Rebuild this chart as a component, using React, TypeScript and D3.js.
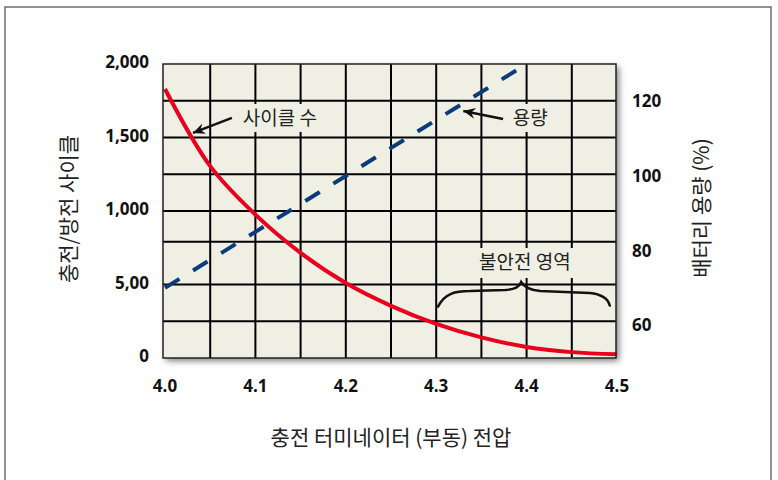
import React from "react";
import * as d3 from "d3";

// ---- data ----
const voltage = [4.0, 4.05, 4.1, 4.15, 4.2, 4.25, 4.3, 4.35, 4.4, 4.45, 4.5];
const cycles = [1830, 1305, 975, 715, 510, 355, 232, 140, 75, 40, 25];
const capVoltage = [4.0, 4.1, 4.2, 4.3, 4.4];
const capacity = [70, 85, 100, 115, 130];

const xTicks = [4.0, 4.1, 4.2, 4.3, 4.4, 4.5];
const xTickLabels = ["4.0", "4.1", "4.2", "4.3", "4.4", "4.5"];
const leftTicks = [0, 500, 1000, 1500, 2000];
const leftTickLabels = ["0", "5,00", "1,000", "1,500", "2,000"];
const rightTicks = [60, 80, 100, 120];
const rightTickLabels = ["60", "80", "100", "120"];
const xGrid = [4.05, 4.1, 4.15, 4.2, 4.25, 4.3, 4.35, 4.4, 4.45];
const yGrid = [250, 500, 790, 1000, 1250, 1500, 1750];

const xTitle = "충전 터미네이터 (부동) 전압";
const leftTitle = "충전/방전 사이클";
const rightTitle = "배터리 용량 (%)";
const cycleLabel = "사이클 수";
const capLabel = "용량";
const unsafeLabel = "불안전 영역";

const W = 778;
const H = 480;
const plot = { left: 163, right: 616, top: 64, bottom: 358 };

const KFONT = "'Noto Sans CJK KR', 'Noto Sans', sans-serif";
const NFONT = "'Open Sans', 'Noto Sans', sans-serif";

export default function App() {
  const x = d3.scaleLinear().domain([4.0, 4.5]).range([165, 617]);
  const yL = d3.scaleLinear().domain([0, 2000]).range([plot.bottom, plot.top]);
  const yR = d3.scaleLinear().domain([51.2, 130]).range([plot.bottom, plot.top]);

  const cycleLine = d3
    .line<number>()
    .x((_, i) => x(voltage[i]))
    .y((d) => yL(d))
    .curve(d3.curveCatmullRom.alpha(0.5))(cycles) as string;

  const capLine = d3
    .line<number>()
    .x((_, i) => x(capVoltage[i]))
    .y((d) => yR(d))(capacity) as string;

  // brace in data coordinates
  const bx0 = x(4.302), bxm = x(4.394), bx1 = x(4.492);
  const byEnd = yL(350), byMid = yL(455), byPeak = yL(517);
  const brace = `M${bx0},${byEnd} C${bx0 + 7},${byMid + 2} ${bx0 + 17},${byMid} ${bx0 + 32},${byMid}
    L${bxm - 16},${byMid - 1} C${bxm - 6},${byMid - 2} ${bxm - 2},${byMid - 4} ${bxm},${byPeak}
    C${bxm + 3},${byMid - 4} ${bxm + 9},${byMid - 1} ${bxm + 19},${byMid}
    L${bx1 - 20},${byMid + 2} C${bx1 - 10},${byMid + 3} ${bx1 - 2},${byMid + 7} ${bx1},${byEnd - 1}`;

  const bg = "#f0efe4";

  return (
    <svg
      width={W}
      height={H}
      style={{ position: "absolute", left: 0, top: 0, background: "#fff" }}
    >
      <defs>
        <filter id="sh" x="-5%" y="-5%" width="115%" height="115%">
          <feDropShadow dx="3" dy="3" stdDeviation="3" floodColor="#000" floodOpacity="0.5" />
        </filter>
        <marker
          id="ah"
          viewBox="-12 -6 14 12"
          markerWidth="14"
          markerHeight="12"
          refX="0"
          refY="0"
          orient="auto"
          markerUnits="userSpaceOnUse"
        >
          <path d="M0,0 L-12,-5.5 L-8,0 L-12,5.5 Z" fill="#111" />
        </marker>
      </defs>

      {/* outer frame */}
      <rect x={5} y={7} width={766} height={490} fill="none" stroke="#6d6d6d" strokeWidth={1.5} />

      {/* plot background with shadow */}
      <rect
        x={plot.left}
        y={plot.top}
        width={plot.right - plot.left}
        height={plot.bottom - plot.top}
        fill={bg}
        filter="url(#sh)"
      />

      {/* grid */}
      {xGrid.map((v) => (
        <line key={"gx" + v} x1={x(v)} x2={x(v)} y1={plot.top} y2={plot.bottom} stroke="#000" strokeWidth={2} />
      ))}
      {yGrid.map((v) => (
        <line key={"gy" + v} x1={plot.left} x2={plot.right} y1={yL(v)} y2={yL(v)} stroke="#000" strokeWidth={2} />
      ))}

      {/* label backgrounds */}
      <rect x={x(4.127) - 42} y={yL(1633) - 14} width={84} height={28} fill={bg} />
      <rect x={x(4.404) - 22} y={yL(1633) - 14} width={44} height={28} fill={bg} />
      <rect x={x(4.398) - 52} y={yL(653) - 14} width={104} height={30} fill={bg} />

      {/* lines */}
      <path d={capLine} fill="none" stroke="#0b3b7c" strokeWidth={4} strokeDasharray="17 16" />
      <path d={cycleLine} fill="none" stroke="#e8001c" strokeWidth={4} />

      {/* plot frame */}
      <rect
        x={plot.left}
        y={plot.top}
        width={plot.right - plot.left}
        height={plot.bottom - plot.top}
        fill="none"
        stroke="#222"
        strokeWidth={1.5}
      />

      {/* annotations */}
      <line x1={x(4.074)} y1={yL(1633)} x2={x(4.031)} y2={yL(1531)} stroke="#111" strokeWidth={2.5} markerEnd="url(#ah)" />
      <text x={x(4.127)} y={yL(1633)} dy="0.35em" textAnchor="middle" fontFamily={KFONT} fontSize={19} fill="#222">
        {cycleLabel}
      </text>
      <line x1={x(4.374)} y1={yL(1626)} x2={x(4.33)} y2={yL(1680)} stroke="#111" strokeWidth={2.5} markerEnd="url(#ah)" />
      <text x={x(4.404)} y={yL(1633)} dy="0.35em" textAnchor="middle" fontFamily={KFONT} fontSize={19} fill="#222">
        {capLabel}
      </text>
      <text x={x(4.398)} y={yL(653)} dy="0.35em" textAnchor="middle" fontFamily={KFONT} fontSize={19} fill="#222">
        {unsafeLabel}
      </text>
      <path d={brace} fill="none" stroke="#111" strokeWidth={2.5} strokeLinecap="round" />

      {/* left axis labels */}
      {leftTicks.map((v, i) => (
        <text key={"l" + v} x={149} y={yL(v) - 2} dy="0.36em" textAnchor="end" fontFamily={NFONT} fontWeight={700} fontSize={17} fill="#111">
          {leftTickLabels[i]}
        </text>
      ))}
      {/* right axis labels */}
      {rightTicks.map((v, i) => (
        <text key={"r" + v} x={632} y={yR(v)} dy="0.36em" textAnchor="start" fontFamily={NFONT} fontWeight={700} fontSize={17} fill="#111">
          {rightTickLabels[i]}
        </text>
      ))}
      {/* x axis labels */}
      {xTicks.map((v, i) => (
        <text key={"x" + v} x={x(v)} y={386} dy="0.36em" textAnchor="middle" fontFamily={NFONT} fontWeight={700} fontSize={17} fill="#111">
          {xTickLabels[i]}
        </text>
      ))}

      {/* titles */}
      <text x={391} y={438} dy="0.35em" textAnchor="middle" fontFamily={KFONT} fontSize={21} fill="#222">
        {xTitle}
      </text>
      <text
        transform={`translate(69,209) rotate(-90)`}
        dy="0.35em"
        textAnchor="middle"
        fontFamily={KFONT}
        fontSize={21}
        fill="#222"
      >
        {leftTitle}
      </text>
      <text
        transform={`translate(702,208) rotate(-90)`}
        dy="0.35em"
        textAnchor="middle"
        fontFamily={KFONT}
        fontSize={21}
        fill="#222"
      >
        {rightTitle}
      </text>
    </svg>
  );
}
